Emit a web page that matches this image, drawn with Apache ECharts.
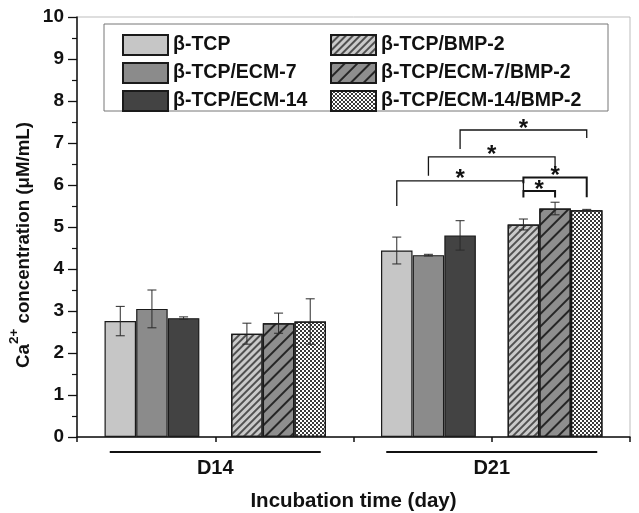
<!DOCTYPE html>
<html><head><meta charset="utf-8">
<script src="https://cdn.jsdelivr.net/npm/echarts@6/dist/echarts.min.js"></script>
<style>html,body{margin:0;padding:0;background:#fff}#c{width:639px;height:513px}</style>
</head><body><div id="c"></div>
<script>
// ---------- data ----------
const categories = ['D14', 'D21'];
const seriesNames = ['β-TCP', 'β-TCP/ECM-7', 'β-TCP/ECM-14', 'β-TCP/BMP-2', 'β-TCP/ECM-7/BMP-2', 'β-TCP/ECM-14/BMP-2'];
const tcp = [2.76, 4.44];
const tcpErr = [0.35, 0.32];
const tcpEcm7 = [3.05, 4.33];
const tcpEcm7Err = [0.45, 0.02];
const tcpEcm14 = [2.83, 4.80];
const tcpEcm14Err = [0.03, 0.35];
const tcpBmp2 = [2.46, 5.06];
const tcpBmp2Err = [0.25, 0.13];
const tcpEcm7Bmp2 = [2.71, 5.44];
const tcpEcm7Bmp2Err = [0.24, 0.15];
const tcpEcm14Bmp2 = [2.75, 5.40];
const tcpEcm14Bmp2Err = [0.54, 0.02];
// significance brackets: [group, fromSeries, toSeries, barLevel, leftLegEnd, rightLegEnd]
const sigBrackets = [
  [1, 2, 5, 7.31, 6.86, 7.12],
  [1, 1, 4, 6.67, 6.22, 6.45],
  [1, 0, 3, 6.10, 5.50, 5.88],
  [1, 3, 4, 5.86, 5.70, 5.70],
  [1, 3, 5, 6.18, 6.04, 5.71]
];
const sigLabel = '*';
const xTitle = 'Incubation time (day)';

const values = [tcp, tcpEcm7, tcpEcm14, tcpBmp2, tcpEcm7Bmp2, tcpEcm14Bmp2];
const errors = [tcpErr, tcpEcm7Err, tcpEcm14Err, tcpBmp2Err, tcpEcm7Bmp2Err, tcpEcm14Bmp2Err];

// ---------- layout / style ----------
const FONT = '"Liberation Sans", Arial, Helvetica, sans-serif';
const SLOT = 0.229;
const slotOf = [-3, -2, -1, 1, 2, 3];
const groupX = g => 1 + 2 * g;
const barX = (g, s) => groupX(g) + slotOf[s] * SLOT;

const fills = ['#c6c6c6', '#8b8b8b', '#434343', '#cacaca', '#8e8e8e', '#ffffff'];
const decals = [
  null, null, null,
  { symbol: 'rect', symbolSize: 1, dashArrayX: [1, 0], dashArrayY: [1.5, 3], rotation: -Math.PI / 4, color: '#505050' },
  { symbol: 'rect', symbolSize: 1, dashArrayX: [1, 0], dashArrayY: [1.3, 7], rotation: -Math.PI / 4, color: '#262626' },
  { symbol: 'rect', symbolSize: 1, dashArrayX: [[2, 2], [0, 2, 2, 0]], dashArrayY: [2, 0], color: '#3a3a3a' }
];

const barSeries = seriesNames.map((name, s) => {
  const itemStyle = { color: fills[s], borderColor: '#1a1a1a', borderWidth: 1.2 };
  if (decals[s]) itemStyle.decal = decals[s];
  return {
    type: 'bar', name,
    data: values[s].map((v, g) => [barX(g, s), v]),
    barWidth: 31.5, barGap: '-100%',
    itemStyle, z: 2, silent: true
  };
});

const errData = [];
values.forEach((arr, s) => arr.forEach((v, g) => errData.push([barX(g, s), v, errors[s][g]])));

const errSeries = {
  type: 'custom', name: 'err', z: 5, silent: true,
  data: errData,
  encode: { x: 0, y: 1 },
  renderItem: (params, api) => {
    const x = api.value(0), y = api.value(1), e = api.value(2);
    const t = api.coord([x, y + e]), b = api.coord([x, y - e]);
    const hw = 4.5, st = { stroke: '#2a2a2a', lineWidth: 1 };
    return { type: 'group', children: [
      { type: 'line', shape: { x1: t[0], y1: t[1], x2: b[0], y2: b[1] }, style: st },
      { type: 'line', shape: { x1: t[0] - hw, y1: t[1], x2: t[0] + hw, y2: t[1] }, style: st },
      { type: 'line', shape: { x1: b[0] - hw, y1: b[1], x2: b[0] + hw, y2: b[1] }, style: st }
    ]};
  }
};

const brData = sigBrackets.map(b => [barX(b[0], b[1]), barX(b[0], b[2]), b[3], b[4], b[5]]);
const brSeries = {
  type: 'custom', name: 'sig', z: 6, silent: true,
  data: brData,
  encode: { x: [0, 1], y: [2, 3, 4] },
  renderItem: (params, api) => {
    const x1 = api.value(0), x2 = api.value(1), yb = api.value(2), yl = api.value(3), yr = api.value(4);
    const a = api.coord([x1, yb]), c = api.coord([x2, yb]);
    const l = api.coord([x1, yl]), r = api.coord([x2, yr]);
    const lw = params.dataIndex >= 3 ? 2 : 1.3;
    return { type: 'group', children: [
      { type: 'polyline', shape: { points: [l, a, c, r] }, style: { stroke: '#151515', lineWidth: lw, fill: null } },
      { type: 'text', x: (a[0] + c[0]) / 2, y: a[1] - 1,
        style: { text: sigLabel, font: 'bold 24px ' + FONT, fill: '#111', align: 'center', verticalAlign: 'middle' } }
    ]};
  }
};

const legendText = { fontSize: 19.5, fontWeight: 'bold', fontFamily: FONT, color: '#111', lineHeight: 20 };
const mkLegend = (names, left) => ({
  data: names, orient: 'vertical', left, top: 34, padding: 0,
  itemWidth: 45, itemHeight: 20, itemGap: 6, icon: 'rect',
  selectedMode: false, textStyle: legendText
});

const option = {
  animation: false,
  grid: { left: 77, right: 9, top: 17, bottom: 76, show: true, borderColor: '#bdbdbd', borderWidth: 1, outerBoundsMode: 'none', containLabel: false },
  legend: [mkLegend(seriesNames.slice(0, 3), 122), mkLegend(seriesNames.slice(3), 330)],
  xAxis: {
    type: 'value', min: 0, max: 4, interval: 1,
    axisLine: { show: true, lineStyle: { color: '#111', width: 1.5 } },
    axisTick: { show: true, inside: false, length: 5, lineStyle: { color: '#111', width: 1.5 } },
    splitLine: { show: false },
    axisLabel: {
      margin: 14, showMinLabel: true, showMaxLabel: true,
      formatter: v => {
        const i = (v - 1) / 2;
        if (Number.isInteger(i) && categories[i]) return '{u| }\n{t|' + categories[i] + '}';
        return '';
      },
      rich: {
        u: { width: 211, height: 2, lineHeight: 2, backgroundColor: '#111', fontSize: 2 },
        t: { fontSize: 20, fontWeight: 'bold', fontFamily: FONT, color: '#111', lineHeight: 31 }
      }
    },
    name: xTitle, nameLocation: 'middle', nameGap: 54,
    nameTextStyle: { fontSize: 20.5, fontWeight: 'bold', fontFamily: FONT, color: '#111' }
  },
  yAxis: {
    type: 'value', min: 0, max: 10, interval: 1,
    axisLine: { show: true, lineStyle: { color: '#111', width: 1.5 } },
    axisTick: { show: true, inside: false, length: 9, lineStyle: { color: '#111', width: 1.3 } },
    minorTick: { show: true, splitNumber: 2, length: 5, lineStyle: { color: '#111', width: 1.2 } },
    splitLine: { show: false },
    axisLabel: { margin: 13, fontSize: 19, fontWeight: 'bold', fontFamily: FONT, color: '#111' }
  },
  graphic: [
    { type: 'rect', shape: { x: 104, y: 24, width: 504, height: 87 }, style: { fill: null, stroke: '#777', lineWidth: 1 }, z: 1 },
    { type: 'text', x: 24, y: 245, rotation: Math.PI / 2,
      style: {
        text: '{m|Ca}{s|2+}{m| concentration (μM/mL)}',
        align: 'center', verticalAlign: 'middle',
        rich: {
          m: { fontSize: 18.7, fontWeight: 'bold', fontFamily: FONT, fill: '#111', lineHeight: 21 },
          s: { fontSize: 13.5, fontWeight: 'bold', fontFamily: FONT, fill: '#111', lineHeight: 14, padding: [0, 0, 19, 0] }
        }
      }
    }
  ],
  series: [...barSeries, errSeries, brSeries]
};

const chart = echarts.init(document.getElementById('c'), null, { renderer: 'canvas' });
chart.setOption(option);
</script>
</body></html>
